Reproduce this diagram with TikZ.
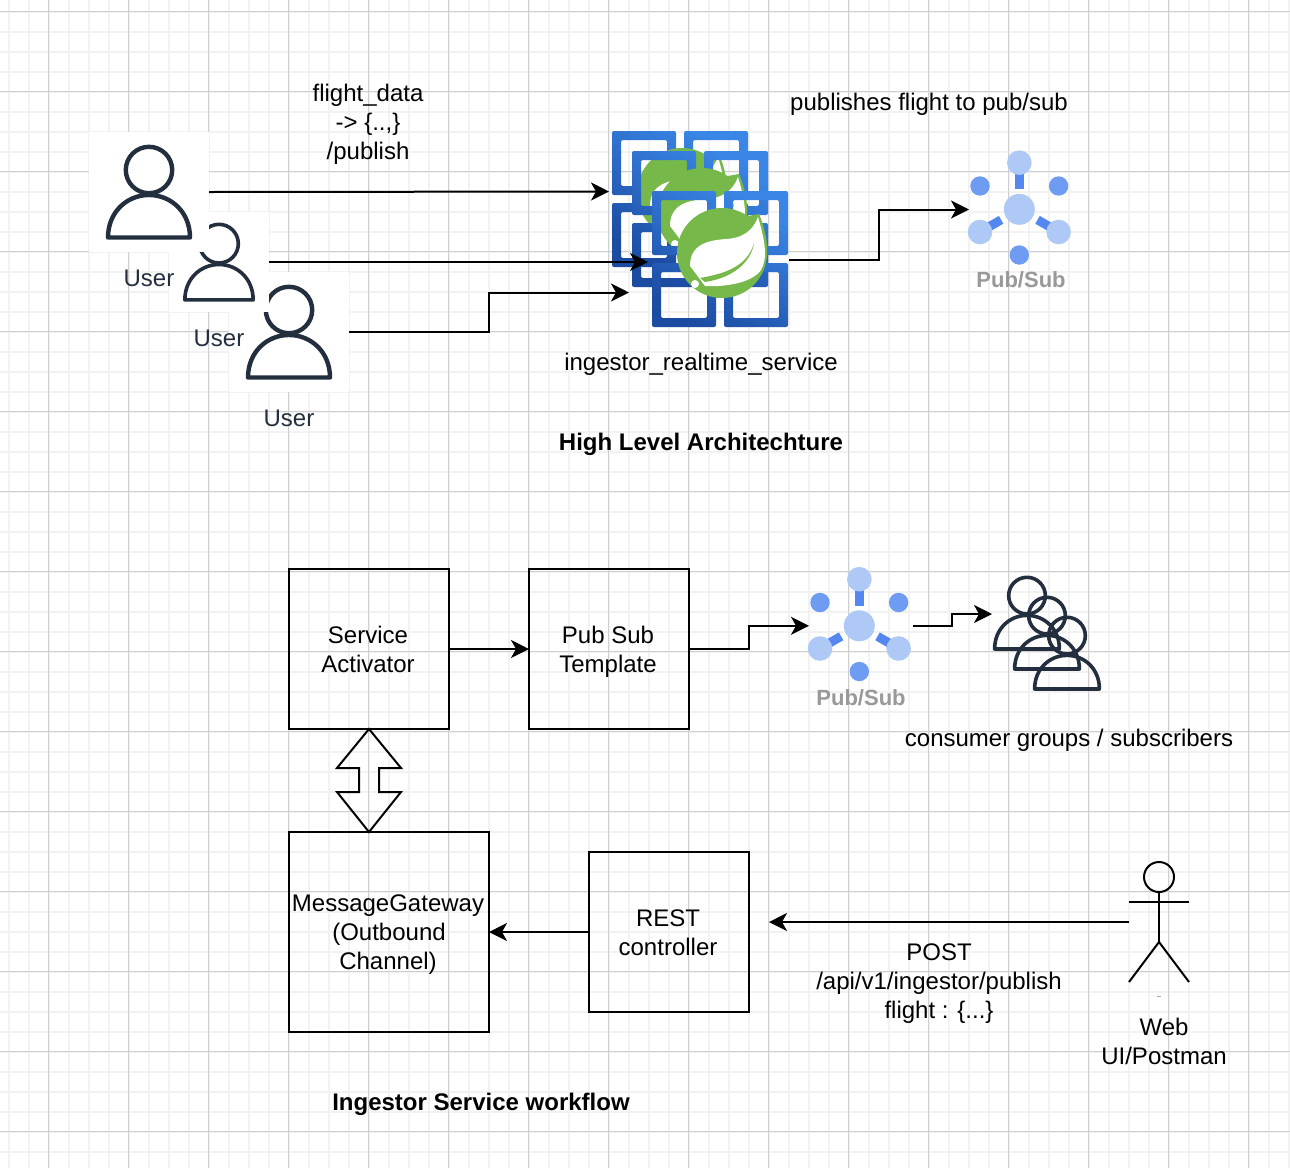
\documentclass[tikz,border=0pt]{standalone}
\usepackage{fontspec}
\setmainfont{Liberation Sans}
\usetikzlibrary{arrows.meta,calc}
\definecolor{gridmajor}{HTML}{CFCFCF}
\definecolor{gridminor}{HTML}{F2F2F2}
\definecolor{awsink}{HTML}{232F3E}
\definecolor{springgreen}{HTML}{77B84A}
\definecolor{psdark}{HTML}{6E9CF2}
\definecolor{pslight}{HTML}{AFC9F6}
\definecolor{psline}{HTML}{5587F0}
\definecolor{svclight}{HTML}{3A86E6}
\definecolor{svcdark}{HTML}{1C4CA2}
\definecolor{psgray}{HTML}{999999}
\newcommand\svcsq[2]{[rounded corners=2pt] (#1,#2) rectangle ++(64,64) (#1+9,#2+9) rectangle ++(46,46)}
\newcommand\st{\rule[-.2\baselineskip]{0pt}{\baselineskip}}
\newcommand\bl{\hspace*{2pt}}
\tikzset{
  x=1pt,y=-1pt,
  every node/.style={inner sep=0pt,outer sep=0pt},
  txt/.style={font=\fontsize{24}{28.8}\selectfont,align=center,text=black},
  usertxt/.style={txt,text=awsink},
  boldtxt/.style={font=\fontsize{24}{28.8}\selectfont\bfseries,align=center},
  pstxt/.style={font=\fontsize{22}{26}\selectfont\bfseries,text=psgray},
  box/.style={draw=black,line width=2pt,align=center,font=\fontsize{24}{28.8}\selectfont},
  flow/.style={draw=black,line width=2pt,-{Stealth[length=18pt,width=18pt,inset=5pt]}},
  anchorbox/.style={minimum width=#1,minimum height=#1},
  svcicon/.pic={
    \path[even odd rule,top color=svclight,bottom color=svcdark,shading angle=-30]
      \svcsq{0}{0} \svcsq{72}{0} \svcsq{0}{72} \svcsq{72}{72};
  },
  leaf/.pic={
    \fill[springgreen] (0,0) circle[radius=45pt];
    \fill[springgreen] (26,-37) -- (37,-39) .. controls (43,-25) and (46,-10) .. (45,3) -- cycle;
    \fill[white] (-32,13) .. controls (-32,-8) and (-15,-13) .. (5,-14)
       .. controls (20,-15) and (31,-22) .. (36,-36)
       .. controls (43,-12) and (46,5) .. (39,17)
       .. controls (29,31) and (0,34) .. (-17,33) -- cycle;
    \fill[springgreen] (-22,25) .. controls (0,21) and (25,15) .. (32,-10)
       .. controls (29,10) and (10,25) .. (-17,29) -- cycle;
    \fill[white] (-27,31) circle[radius=4pt];
  },
  person/.pic={
    \draw[awsink,line width=#1,line join=round] (0,-22) circle[radius=23.2pt];
    \draw[awsink,line width=#1,line join=round]
      (-41,45.5) .. controls (-41,20) and (-22,3) .. (0,3)
      .. controls (22,3) and (41,20) .. (41,45.5) -- cycle;
  },
  pubsub/.pic={
    \draw[psline,line width=9pt] (0,-36) -- (0,-20);
    \draw[psline,line width=9pt] (-30,17.3) -- (-18.2,10.5);
    \draw[psline,line width=9pt] (30,17.3) -- (18.2,10.5);
    \fill[pslight] (0,0) circle[radius=15.5pt];
    \fill[pslight] (0,-46.6) circle[radius=12.3pt];
    \fill[pslight] (-39.3,22.7) circle[radius=12.3pt];
    \fill[pslight] (39.3,22.7) circle[radius=12.3pt];
    \fill[psdark] (-39.3,-23.3) circle[radius=9.7pt];
    \fill[psdark] (39.3,-23.3) circle[radius=9.7pt];
    \fill[psdark] (0,45.7) circle[radius=9.7pt];
  },
}
\begin{document}
\begin{tikzpicture}
\useasboundingbox (0,0) rectangle (1290,1168);
\fill[white] (0,0) rectangle (1290,1168);
% grid
\foreach \i in {0,...,64} \draw[gridminor,line width=2pt] ({8.5+20*\i},0) -- ({8.5+20*\i},1168);
\foreach \j in {0,...,58} \draw[gridminor,line width=2pt] (0,{11.5+20*\j}) -- (1290,{11.5+20*\j});
\foreach \i in {0,...,15} \draw[gridmajor,line width=1pt] ({48.5+80*\i},0) -- ({48.5+80*\i},1168);
\foreach \j in {0,...,14} \draw[gridmajor,line width=1pt] (0,{11.5+80*\j}) -- (1290,{11.5+80*\j});

% users (lowest first; each has an opaque white square behind it)
\node[anchorbox=120pt,fill=white] (user3) at (289,332) {};
\pic at (289,332) {person=4.4pt};
\node[anchorbox=100pt,fill=white] (user2) at (219,262) {};
\pic[scale=.833] at (219,262) {person=3.6pt};
\node[anchorbox=120pt,fill=white] (user1) at (149,192) {};
\pic at (149,192) {person=4.4pt};
\node[usertxt] (lu1) at (149,278) {\st User};
\node[usertxt] (lu2) at (219,338) {\st User};
\node[usertxt] (lu3) at (289,418) {\st User};

% ingestor service stack
\node[minimum width=177pt,minimum height=196pt] (svc) at (700,229) {};
\pic at (612,131) {svcicon};
\pic at (682,193) {leaf};
\pic at (632,151) {svcicon};
\pic at (702,213) {leaf};
\pic at (652,191) {svcicon};
\pic at (722,253) {leaf};
\coordinate (svcin1) at (609,191.5);
\coordinate (svcin2) at (648,262);
\coordinate (svcin3) at (629,292.5);
\coordinate (svcout) at (789,260);

% pub/sub top
\node[anchorbox=108pt] (pub1) at (1019.3,209.3) {};
\pic at (1019.3,209.3) {pubsub};
\coordinate (pub1in) at (969,209.5);
\node[pstxt] (lp1) at (1021,280) {Pub/Sub};

\node[txt] (t1) at (368,122) {\st flight\_data\\\st -> \{..,\}\\\st /publish};
\node[txt] (t2) at (929,102) {\st publishes flight to pub/sub};
\node[txt] (t3) at (701,362) {\st ingestor\_realtime\_service};
\node[boldtxt] (t4) at (701,442) {\st High Level Architechture};

\draw[flow] (user1.east) -- (svcin1);
\draw[flow] (user2.east) -- (svcin2);
\draw[flow] (user3.east) -- ++(140,0) |- (svcin3);
\draw[flow] (svcout) -- ++(90,0) |- (pub1in);

% workflow
\node[box,minimum width=160pt,minimum height=160pt] (sa) at (369,649) {\st Service\bl\\\st Activator\bl};
\node[box,minimum width=160pt,minimum height=160pt] (pst) at (609,649) {\st Pub Sub\bl\\\st Template\bl};
\node[box,minimum width=200pt,minimum height=200pt] (mg) at (389,932) {\st MessageGateway\bl\\\st (Outbound\bl\\\st Channel)\bl};
\node[box,minimum width=160pt,minimum height=160pt] (rest) at (669,932) {\st REST\bl\\\st controller\bl};
\draw[black,line width=2pt,line join=miter]
  (sa.south) -- (401,768) -- (379,768) -- (379,792) -- (401,792) -- (mg.north -| sa.south)
  -- (337,792) -- (359,792) -- (359,768) -- (337,768) -- cycle;

\node[anchorbox=108pt] (pub2) at (859.3,625.8) {};
\pic at (859.3,625.8) {pubsub};
\node[pstxt] (lp2) at (861,698) {Pub/Sub};

\pic[scale=.79] at (1027,613) {person=3.6pt};
\pic[scale=.79] at (1047,633) {person=3.6pt};
\pic[scale=.79] at (1067,653) {person=3.6pt};
\coordinate (subsin) at (992,614);
\node[txt] (t5) at (1069,738) {\st consumer groups / subscribers};

\node[txt] (t6) at (939,981) {\st POST\\\st /api/v1/ingestor/publish\\\st flight : \{...\}};
\node[txt] (t7) at (1164,1041) {\st Web\\\st UI/Postman};
\node[boldtxt] (t8) at (481,1102) {\st Ingestor Service workflow};

% actor
\node[draw=black,line width=2pt,circle,minimum size=30pt] (head) at (1159,877) {};
\coordinate (hip) at (1159,942);
\coordinate (armL) at (1129,902);
\coordinate (armR) at (1189,902);
\coordinate (actorout) at (1129,922);
\coordinate (restin) at (769,922);
\draw[black,line width=2pt] (head.south) -- (hip);
\draw[black,line width=2pt] (armL) -- (armR);
\draw[black,line width=2pt] (1129,982) -- (hip) -- (1189,982);
\draw[gray!70,line width=.6pt] (1157.3,996) -- (1161,996);

\draw[flow] (sa.east) -- (pst.west);
\draw[flow] (pst.east) -- ++(60,0) |- (pub2.west -| 809,0) ;
\draw[flow] (pub2.east) -- ++(39,0) |- (subsin);
\draw[flow] (actorout) -- (restin);
\draw[flow] (rest.west) -- (mg.east);
\end{tikzpicture}
\end{document}
